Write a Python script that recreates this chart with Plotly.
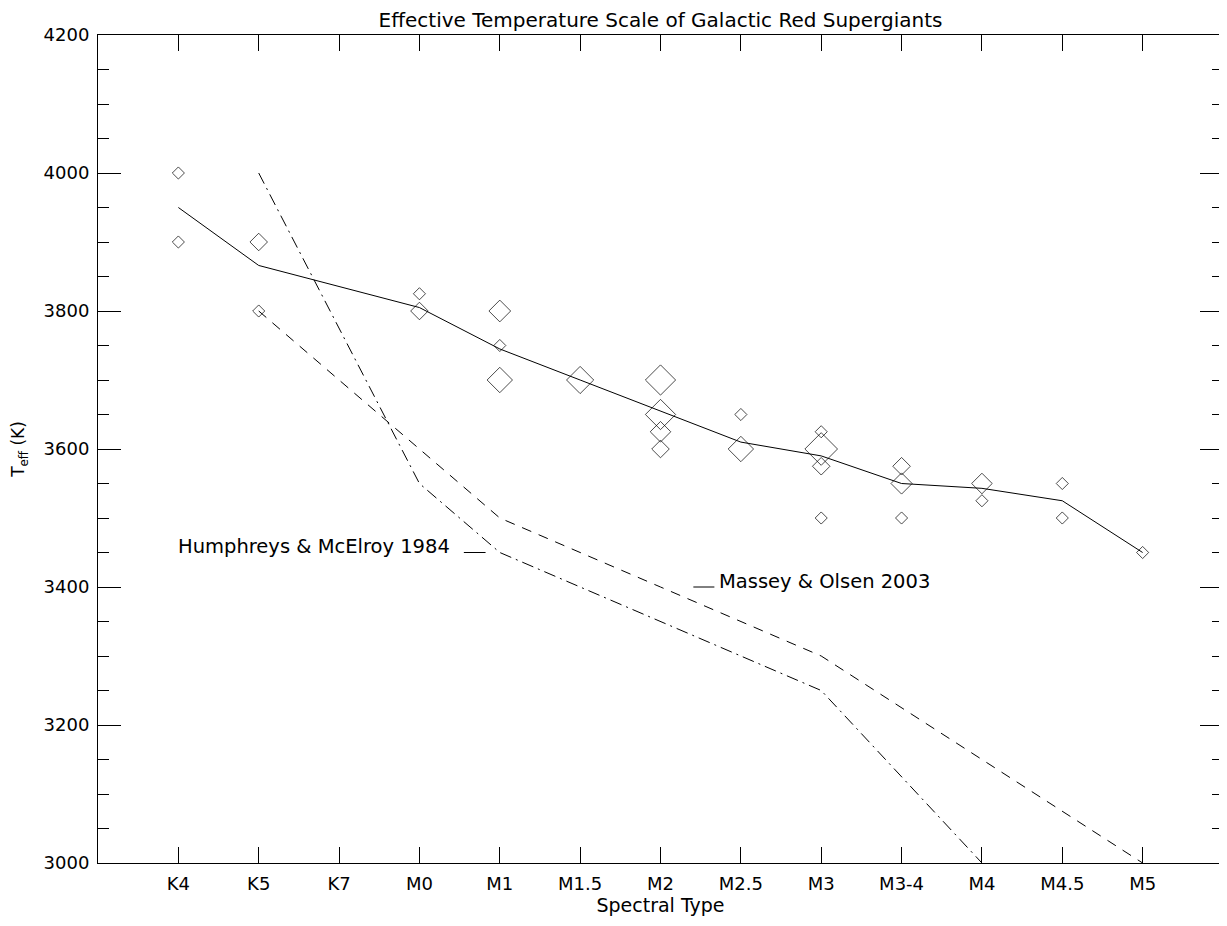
import plotly.graph_objects as go

# ---- data ----
spectral_types = ["K4", "K5", "K7", "M0", "M1", "M1.5", "M2", "M2.5", "M3", "M3-4", "M4", "M4.5", "M5"]

star_type = ["K4", "K4", "K5", "K5", "M0", "M0", "M1", "M1", "M1", "M1.5",
             "M2", "M2", "M2", "M2", "M2.5", "M2.5", "M3", "M3", "M3", "M3",
             "M3-4", "M3-4", "M3-4", "M4", "M4", "M4.5", "M4.5", "M5"]
star_teff = [4000, 3900, 3900, 3800, 3825, 3800, 3800, 3750, 3700, 3700,
             3700, 3650, 3625, 3600, 3650, 3600, 3625, 3600, 3575, 3500,
             3575, 3550, 3500, 3550, 3525, 3550, 3500, 3450]
star_weight = [1.0, 1.0, 1.45, 1.0, 1.0, 1.45, 1.8, 1.0, 2.1, 2.25,
               2.5, 2.5, 1.7, 1.45, 1.0, 2.1, 1.0, 2.7, 1.45, 1.0,
               1.45, 1.75, 1.0, 1.7, 1.0, 1.0, 1.0, 1.0]

mean_type = ["K4", "K5", "M0", "M1", "M1.5", "M2", "M2.5", "M3", "M3-4", "M4", "M4.5", "M5"]
mean_teff = [3950, 3866, 3805, 3745, 3700, 3655, 3610, 3590, 3550, 3543, 3525, 3450]

mo_type = ["K5", "M0", "M1", "M2", "M3", "M4", "M5"]
mo_teff = [3800, 3600, 3500, 3400, 3300, 3150, 3000]

hm_type = ["K5", "M0", "M1", "M2", "M3", "M4"]
hm_teff = [4000, 3550, 3450, 3350, 3250, 3000]

y_ticks = [3000, 3200, 3400, 3600, 3800, 4000, 4200]

# ---- helpers ----
def pos(types):
    return [spectral_types.index(t) for t in types]

FONT = "DejaVu Sans"
BASE_SIZE = 9.3

fig = go.Figure()

fig.add_trace(go.Scatter(
    x=pos(star_type), y=star_teff, mode="markers",
    marker=dict(symbol="diamond-open", size=[BASE_SIZE * w for w in star_weight],
                color="black", line=dict(width=1, color="black")),
    showlegend=False, hoverinfo="skip"))

fig.add_trace(go.Scatter(
    x=pos(mean_type), y=mean_teff, mode="lines",
    line=dict(color="black", width=1), showlegend=False, hoverinfo="skip"))

fig.add_trace(go.Scatter(
    x=pos(mo_type), y=mo_teff, mode="lines",
    line=dict(color="black", width=1, dash="10px,8px"), showlegend=False, hoverinfo="skip"))

fig.add_trace(go.Scatter(
    x=pos(hm_type), y=hm_teff, mode="lines",
    line=dict(color="black", width=1, dash="12px,5px,2px,5px"), showlegend=False, hoverinfo="skip"))

# label samples + texts
fig.add_shape(type="line", xref="paper", yref="y", x0=0.3252, x1=0.3445, y0=3450, y1=3450,
              line=dict(color="black", width=1))
fig.add_shape(type="line", xref="paper", yref="y", x0=0.5292, x1=0.5479, y0=3400, y1=3400,
              line=dict(color="black", width=1))

fig.add_annotation(text="Humphreys & McElroy 1984", xref="paper", yref="paper",
                   x=0.3143, y=0.3817, xanchor="right", yanchor="middle", showarrow=False,
                   font=dict(family=FONT, size=19.5, color="black"))
fig.add_annotation(text="Massey & Olsen 2003", xref="paper", yref="paper",
                   x=0.5505, y=0.3395, xanchor="left", yanchor="middle", showarrow=False,
                   font=dict(family=FONT, size=19.5, color="black"))

# The page body has an 8px margin; the figure is sized so the page fits the window.
fig.update_layout(
    width=1219, height=910,
    margin=dict(l=90, r=4, t=27, b=55, autoexpand=False),
    paper_bgcolor="white", plot_bgcolor="white",
    font=dict(family=FONT, size=18, color="black"),
    title=dict(text="Effective Temperature Scale of Galactic Red Supergiants",
               x=0.5353, xanchor="center", xref="container",
               y=0.9868, yanchor="middle", yref="container", automargin=False,
               font=dict(family=FONT, size=20, color="black")),
)

fig.update_xaxes(
    range=[-1, 13], tickmode="array", tickvals=list(range(len(spectral_types))),
    ticktext=spectral_types, ticks="inside", ticklen=16, tickwidth=1, tickcolor="black",
    showline=True, linecolor="black", linewidth=1, mirror="ticks",
    showgrid=False, zeroline=False, ticklabelstandoff=4, automargin=False,
    tickfont=dict(family=FONT, size=18, color="black"),
    title=dict(text="Spectral Type", font=dict(family=FONT, size=19, color="black"), standoff=2),
)

fig.update_yaxes(
    range=[3000, 4200], tickmode="array", tickvals=y_ticks,
    ticks="inside", ticklen=23, tickwidth=1, tickcolor="black",
    minor=dict(ticks="inside", ticklen=11, dtick=50, tickcolor="black", tickwidth=1, showgrid=False),
    showline=True, linecolor="black", linewidth=1, mirror="ticks",
    showgrid=False, zeroline=False, ticklabelstandoff=4, automargin=False,
    tickfont=dict(family=FONT, size=18, color="black"),
    title=dict(text="T<sub>eff</sub> (K)", font=dict(family=FONT, size=17, color="black"), standoff=15),
)

fig.write_html("out.html")
